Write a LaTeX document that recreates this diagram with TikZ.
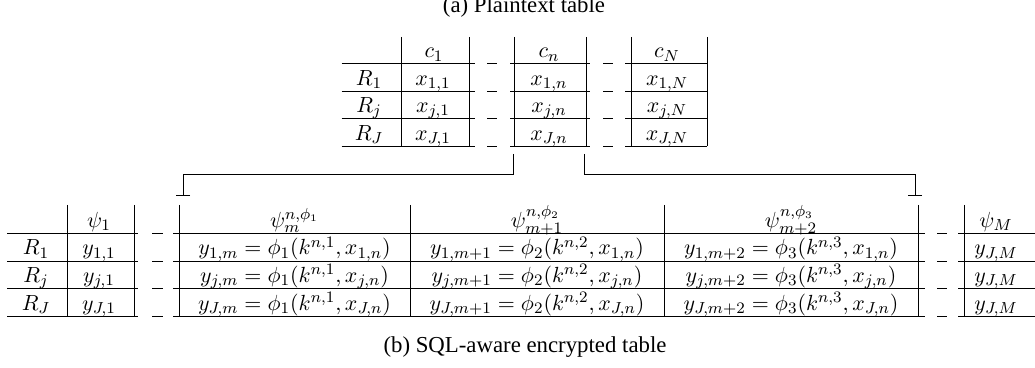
\documentclass[tikz,border=0pt]{standalone}
\usepackage{fontspec}
\setmainfont{Liberation Serif}
\usepackage{tikz}
\usetikzlibrary{arrows.meta}

\tikzset{
  rule/.style={line width=0.5pt},
  cell/.style={anchor=base, inner sep=0pt, font=\fontsize{10.8}{13}\selectfont},
  capt/.style={anchor=base, inner sep=0pt, font=\fontsize{11.4}{13}\selectfont},
  link/.style={line width=0.5pt, -{Bar[width=7pt,line width=0.5pt]}},
}

\begin{document}
\begin{tikzpicture}[x=0.5pt,y=-0.5pt]
    \useasboundingbox (0,0) rectangle (1035,368);

    % (a) plaintext table
    \node[capt] (capa) at (524,12.5) {(a) Plaintext table};
    \foreach \y in {64,91.5,119,146.5}{
        \draw[rule] (341.5,\y) -- (475,\y);
        \draw[rule] (487,\y) -- (497,\y);
        \draw[rule] (510,\y) -- (590,\y);
        \draw[rule] (603,\y) -- (613,\y);
        \draw[rule] (625,\y) -- (707,\y);
    }
    \foreach \x in {401,469,514,586,631,707}
        \draw[rule] (\x,37) -- (\x,146.5);

    \node[cell] (c1) at (434,57.8) {$c_1$};
    \node[cell] (cn) at (549,57.8) {$c_n$};
    \node[cell] (cN) at (667,57.8) {$c_N$};
    \foreach \r/\y in {1/85.2, j/112.5, J/140.2}{
        \node[cell] (R\r) at (369,\y) {$R_\r$};
        \node[cell] (x\r1) at (433,\y) {$x_{\r,1}$};
        \node[cell] (x\r n) at (549,\y) {$x_{\r,n}$};
        \node[cell] (x\r N) at (667,\y) {$x_{\r,N}$};
    }

    % column n goes to three encrypted columns
    \coordinate (lsrc) at (513,154);
    \coordinate (rsrc) at (584,154);
    \coordinate (ldst) at (183,196);
    \coordinate (rdst) at (915,196);
    \draw[link] (lsrc) -- ++(0,21) -| (ldst);
    \draw[link] (rsrc) -- ++(0,21) -| (rdst);

    % (b) encrypted table
    \foreach \y in {234,261.5,289,316.7}{
        \draw[rule] (7,\y) -- (138,\y);
        \draw[rule] (152,\y) -- (163,\y);
        \draw[rule] (173,\y) -- (925,\y);
        \draw[rule] (937,\y) -- (947,\y);
        \draw[rule] (958,\y) -- (1035,\y);
    }
    \foreach \x in {67,134,179,410,664,918,964}
        \draw[rule] (\x,205) -- (\x,316.7);

    \node[cell] (psi1) at (99,227.5) {$\psi_1$};
    \node[cell] (psia) at (294.5,227.5) {$\psi_m^{n,\phi_1}$};
    \node[cell] (psib) at (537,227.5) {$\psi_{m+1}^{n,\phi_2}$};
    \node[cell] (psic) at (791,227.5) {$\psi_{m+2}^{n,\phi_3}$};
    \node[cell] (psiM) at (996,227.5) {$\psi_M$};
    \foreach \r/\y in {1/255, j/282.5, J/310.2}{
        \node[cell] (S\r) at (36,\y) {$R_\r$};
        \node[cell] (y\r1) at (99,\y) {$y_{\r,1}$};
        \node[cell] (y\r a) at (294.5,\y) {$y_{\r,m} = \phi_1(k^{n,1}, x_{\r,n})$};
        \node[cell] (y\r b) at (537,\y) {$y_{\r,m+1} = \phi_2(k^{n,2}, x_{\r,n})$};
        \node[cell] (y\r c) at (791,\y) {$y_{\r,m+2} = \phi_3(k^{n,3}, x_{\r,n})$};
        \node[cell] (y\r M) at (996,\y) {$y_{J,M}$};
    }
    \node[capt] (capb) at (525,353) {(b) SQL-aware encrypted table};
\end{tikzpicture}
\end{document}
